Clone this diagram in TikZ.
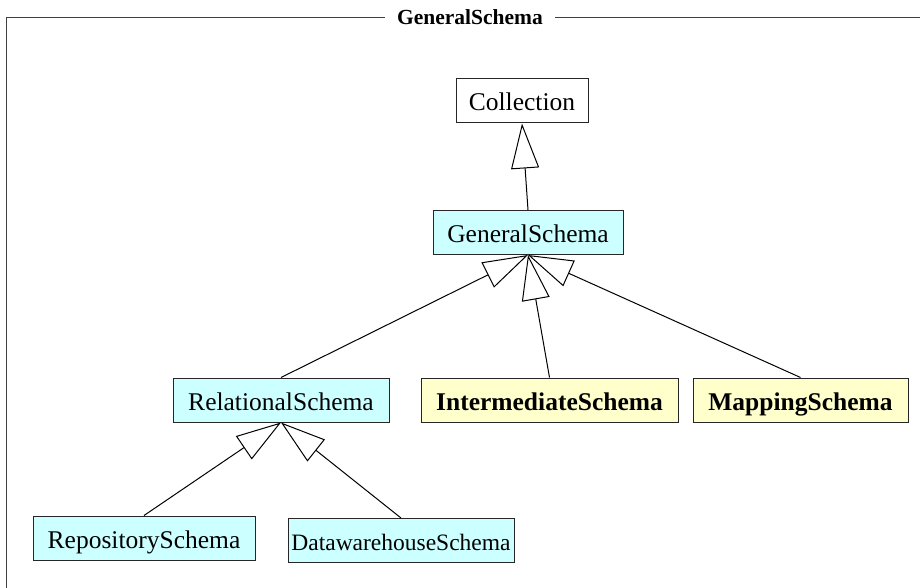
\documentclass[tikz,border=0pt]{standalone}
\usepackage{fontspec}
\setmainfont{Liberation Serif}
\usetikzlibrary{arrows.meta}

\definecolor{schemacyan}{HTML}{CCFFFF}
\definecolor{schemayellow}{HTML}{FFFFCC}

\tikzset{
	cls/.style={draw=black!85, line width=1pt, inner xsep=0pt, inner ysep=0pt,
		text height=22pt, text depth=2pt, minimum height=44pt,
		font=\fontsize{25.5}{30}\selectfont},
	schema/.style={cls, fill=schemacyan},
	newschema/.style={cls, fill=schemayellow, font=\fontsize{25.5}{30}\selectfont\bfseries},
	inherit/.style={-{Triangle[open, length=45pt, width=28pt]}, line width=1pt},
}

\begin{document}
\begin{tikzpicture}[x=1pt, y=-1pt]
	\useasboundingbox (0,0) rectangle (920,588);

	% package frame
	\node[font=\fontsize{21.5}{26}\selectfont\bfseries, inner xsep=12pt] (pkg) at (470,17.5) {GeneralSchema};
	\coordinate (pkgbl) at (6.5,600);
	\coordinate (pkgtr) at (930,17.5);
	\draw[black!75, line width=1.2pt] (pkgbl) |- (pkg.west);
	\draw[black!75, line width=1.2pt] (pkg.east) -- (pkgtr);

	\node[cls, fill=white, minimum width=132pt] (coll) at (522,101) {Collection};
	\node[schema, minimum width=190pt] (gen) at (528,232.5) {GeneralSchema};
	\node[schema, minimum width=216pt] (rel) at (281,400) {RelationalSchema};
	\node[newschema, minimum width=257pt] (inter) at (549.5,400) {IntermediateSchema};
	\node[newschema, minimum width=215pt] (map) at (800.5,400) {MappingSchema};
	\node[schema, minimum width=222pt] (repo) at (144,538) {RepositorySchema};
	\node[schema, minimum width=226pt, font=\fontsize{23.5}{28}\selectfont] (dwh) at (401,540.5) {DatawarehouseSchema};

	\draw[inherit] (gen.north) -- (coll.south);
	\draw[inherit] (rel.north) -- (gen.south);
	\draw[inherit] (inter.north) -- (gen.south);
	\draw[inherit] (map.north) -- (gen.south);
	\draw[inherit] (repo.north) -- (rel.south);
	\draw[inherit] (dwh.north) -- (rel.south);

\end{tikzpicture}
\end{document}
